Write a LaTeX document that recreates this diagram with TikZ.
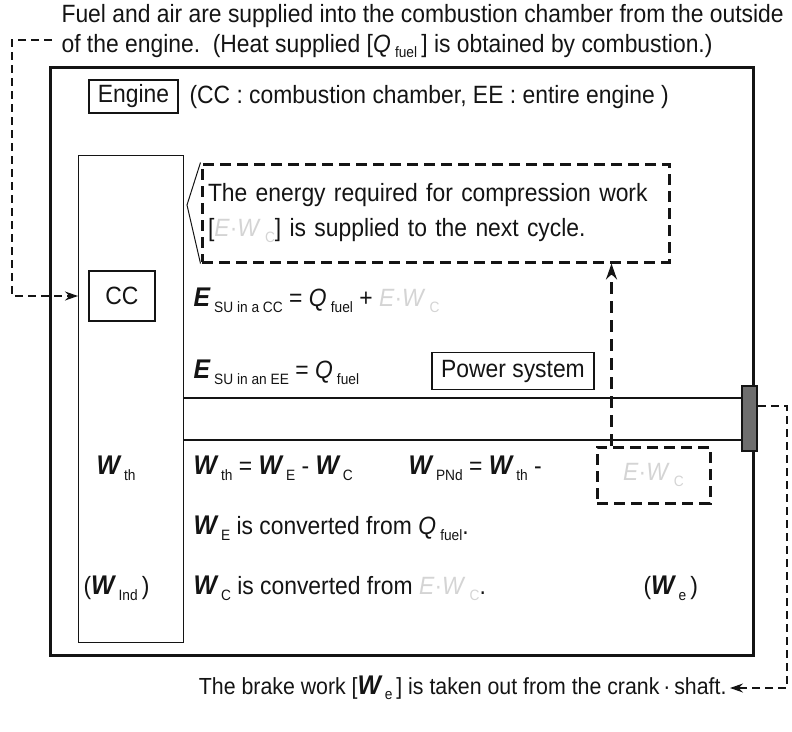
\documentclass[tikz,border=0pt]{standalone}
\usepackage{fontspec}
\setmainfont{Liberation Sans}[FakeStretch=0.915]
\usetikzlibrary{calc,arrows.meta,positioning}
\definecolor{inkdark}{RGB}{20,20,20}
\definecolor{inkfaint}{RGB}{212,212,212}
\definecolor{crankgray}{RGB}{110,110,110}
\newcommand\bigbi[1]{{\fontsize{27}{27}\selectfont\bfseries\itshape #1}}
\newcommand\lowtext[1]{\raisebox{-0.45ex}{\fontsize{15}{15}\selectfont #1}}
\newcommand\faintew{\textcolor{inkfaint}{\textit{E}·\textit{W}\,\lowtext{C}}}

\begin{document}
\begin{tikzpicture}[x=1pt,y=-1pt,font=\fontsize{25}{35}\selectfont,text=inkdark,
  labelbox/.style={draw=inkdark,line width=1.6pt,inner sep=0pt},
  notebox/.style={draw=inkdark,line width=3pt,dash pattern=on 11pt off 6pt,inner sep=0pt},
  feed/.style={draw=inkdark,line width=1.3pt,dash pattern=on 8pt off 5pt,-{Stealth[length=13pt,width=9pt]}},
  recycle/.style={draw=inkdark,line width=2.5pt,dash pattern=on 12pt off 7pt,-{Stealth[length=16pt,width=11pt]}}]
  \useasboundingbox (0,0) rectangle (792,731);

  \coordinate (bendL) at (12,40); \coordinate (fuelin) at (52,40);
  \coordinate (bendR) at (787,406); \coordinate (pointer) at (187,205);

  \node[anchor=west] (supply1) at (58,16) {Fuel and air are supplied into the combustion chamber from the outside};
  \node[anchor=west] (supply2) at (58,46) {of the engine.\ \ (Heat supplied [\textit{Q}\,\lowtext{fuel}\,] is obtained by combustion.)};

  \draw[draw=inkdark,line width=3pt] (50,67) rectangle (753,655);
  \node[draw=inkdark,line width=1.2pt,minimum width=105pt,minimum height=487pt,inner sep=0pt,anchor=north west] (column) at (78,155) {};

  \node[labelbox,minimum width=89pt,minimum height=33pt] (engine) at (133.5,96.5) {Engine};
  \node[anchor=west] (abbrev) at (186,97) {(CC : combustion chamber, EE : entire engine )};
  \node[labelbox,minimum width=66pt,minimum height=50pt] (cc) at (122,296) {CC};

  \node[notebox,minimum width=467pt,minimum height=98pt,text width=455pt,align=left] (note) at (435.5,213)
    {The energy required for compression work\\ {[}\faintew] is supplied to the next cycle.};
  \draw[draw=inkdark,line width=1pt] (note.north west) -- (pointer) -- (note.south west);

  \node[anchor=west] (esucc) at (190,300) {\bigbi{E}\,\lowtext{SU in a CC} = \textit{Q}\,\lowtext{fuel} + \faintew};
  \node[anchor=west] (esuee) at (190,372) {\bigbi{E}\,\lowtext{SU in an EE} = \textit{Q}\,\lowtext{fuel}};
  \node[labelbox,minimum width=162pt,minimum height=37pt] (power) at (513,371) {Power system};

  \draw[draw=inkdark,line width=1.6pt] (column.east |- 0,398) -- (741,398);
  \draw[draw=inkdark,line width=1.6pt] (column.east |- 0,440) -- (741,440);
  \node[draw=inkdark,fill=crankgray,line width=2pt,minimum width=15pt,minimum height=65pt,inner sep=0pt] (crank) at (749.5,418.5) {};

  \node[notebox,minimum width=113pt,minimum height=56pt] (ewbox) at (653.5,475) {\faintew};
  \coordinate (up0) at ($(ewbox.north west)+(16,0)$);
  \draw[recycle] (up0) -- (up0 |- note.south);

  \node[anchor=west] (wthL) at (93,468) {\bigbi{W}\,\lowtext{th}};
  \node[anchor=west] (wth) at (190,468) {\bigbi{W}\,\lowtext{th} = \bigbi{W}\,\lowtext{E} - \bigbi{W}\,\lowtext{C}};
  \node[anchor=west] (wpnd) at (405,468) {\bigbi{W}\,\lowtext{PNd} = \bigbi{W}\,\lowtext{th} -};
  \node[anchor=west] (we) at (190,528) {\bigbi{W}\,\lowtext{E} is converted from \textit{Q}\,\lowtext{fuel}.};
  \node[anchor=west] (wind) at (80,588) {(\bigbi{W}\,\lowtext{Ind}\,)};
  \node[anchor=west] (wc) at (190,588) {\bigbi{W}\,\lowtext{C} is converted from \faintew.};
  \node[anchor=west] (webr) at (640,588) {(\bigbi{W}\,\lowtext{e}\,)};

  \node[anchor=east,font=\fontsize{23.3}{28}\selectfont] (brake) at (730,688) {The brake work [\bigbi{W}\,\lowtext{e}\,] is taken out from the crank\,·\,shaft.};

  \draw[feed] (fuelin) -- (bendL) |- (cc.west -| column.west);
  \draw[feed] (crank.east |- bendR) -- (bendR) |- (brake.east);
\end{tikzpicture}
\end{document}
